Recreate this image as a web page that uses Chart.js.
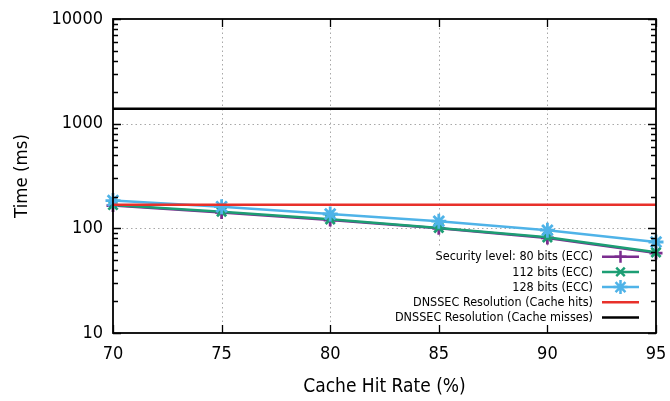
<!DOCTYPE html>
<html><head><meta charset="utf-8">
<script src="https://cdn.jsdelivr.net/npm/chart.js@4"></script>
<style>html,body{margin:0;padding:0;background:#fff}#wrap{width:670px;height:401px}</style>
</head><body><div id="wrap"><canvas id="c" width="670" height="401"></canvas></div>
<script>
const cacheHitRate = [70, 75, 80, 85, 90, 95];
const ecc80 = [165, 142, 120, 100, 81, 58];
const ecc112 = [167, 144, 122, 101, 82, 59];
const ecc128 = [184, 161, 137, 117, 96, 74];
const cacheHits = [168, 168, 168, 168, 168, 168];
const cacheMisses = [1390, 1390, 1390, 1390, 1390, 1390];
const seriesLabels = ['Security level: 80 bits (ECC)', '112 bits (ECC)', '128 bits (ECC)',
  'DNSSEC Resolution (Cache hits)', 'DNSSEC Resolution (Cache misses)'];
const xTicks = [70, 75, 80, 85, 90, 95];
const yMajorTicks = [10, 100, 1000, 10000];
const yMinorTicks = [20,30,40,50,60,70,80,90,200,300,400,500,600,700,800,900,2000,3000,4000,5000,6000,7000,8000,9000];

const FONT = '"DejaVu Sans Condensed", "DejaVu Sans", sans-serif';
const pts = arr => cacheHitRate.map((x, i) => ({x: x, y: arr[i]}));

const styles = [
  {c: '#7b2d8f', p: 'cross', r: 6.5, o: 4},
  {c: '#1d9e74', p: 'crossRot', r: 6.5, o: 3},
  {c: '#4fb3e8', p: 'star', r: 7.5, o: 2},
  {c: '#e8302a', p: false, r: 0, o: 1},
  {c: '#000000', p: false, r: 0, o: 0}
];
const values = [ecc80, ecc112, ecc128, cacheHits, cacheMisses];

const datasets = values.map((v, i) => ({
  label: seriesLabels[i],
  data: pts(v),
  borderColor: styles[i].c,
  backgroundColor: styles[i].c,
  borderWidth: 2.5,
  pointStyle: styles[i].p,
  pointRadius: styles[i].r,
  pointBorderWidth: 2.8,
  pointBorderColor: styles[i].c,
  order: styles[i].o,
  tension: 0,
  clip: false
}));

const frame = {
  id: 'frame',
  beforeDatasetsDraw(chart) {
    const {ctx, chartArea: a, scales: {x, y}} = chart;
    ctx.save();
    ctx.strokeStyle = '#a8a8a8';
    ctx.lineWidth = 1;
    ctx.setLineDash([1.5, 3]);
    xTicks.slice(1, -1).forEach(v => {
      const px = Math.round(x.getPixelForValue(v)) + 0.5;
      ctx.beginPath(); ctx.moveTo(px, a.top); ctx.lineTo(px, a.bottom); ctx.stroke();
    });
    yMajorTicks.slice(1, -1).forEach(v => {
      const py = Math.round(y.getPixelForValue(v)) + 0.5;
      ctx.beginPath(); ctx.moveTo(a.left, py); ctx.lineTo(a.right, py); ctx.stroke();
    });
    ctx.setLineDash([]);
    // opaque key box
    ctx.fillStyle = '#fff';
    ctx.fillRect(392, 247, 254, 79);
    ctx.restore();
  },
  afterDatasetsDraw(chart) {
    const {ctx, chartArea: a, scales: {x, y}} = chart;
    ctx.save();
    // legend
    ctx.font = '12.5px ' + FONT;
    ctx.textAlign = 'right';
    ctx.textBaseline = 'middle';
    chart.data.datasets.forEach((ds, i) => {
      const cy = 256.7 + i * 15.2;
      ctx.fillStyle = '#000';
      ctx.fillText(ds.label, 593, cy + 0.5);
      ctx.strokeStyle = ds.borderColor;
      ctx.lineWidth = 2.5;
      ctx.beginPath(); ctx.moveTo(602, cy); ctx.lineTo(639, cy); ctx.stroke();
      if (ds.pointStyle) {
        Chart.helpers.drawPoint(ctx, {pointStyle: ds.pointStyle, radius: ds.pointRadius - 0.5, borderWidth: 2.8, rotation: 0}, 620.5, cy);
      }
    });
    // ticks
    ctx.strokeStyle = '#000';
    ctx.lineWidth = 1.3;
    xTicks.forEach(v => {
      const px = Math.round(x.getPixelForValue(v)) + 0.5;
      ctx.beginPath();
      ctx.moveTo(px, a.bottom); ctx.lineTo(px, a.bottom - 8);
      ctx.moveTo(px, a.top); ctx.lineTo(px, a.top + 8);
      ctx.stroke();
    });
    yMajorTicks.forEach(v => {
      const py = Math.round(y.getPixelForValue(v)) + 0.5;
      ctx.beginPath();
      ctx.moveTo(a.left, py); ctx.lineTo(a.left + 8, py);
      ctx.moveTo(a.right, py); ctx.lineTo(a.right - 8, py);
      ctx.stroke();
    });
    yMinorTicks.forEach(v => {
      const py = Math.round(y.getPixelForValue(v)) + 0.5;
      ctx.beginPath();
      ctx.moveTo(a.left, py); ctx.lineTo(a.left + 5, py);
      ctx.moveTo(a.right, py); ctx.lineTo(a.right - 5, py);
      ctx.stroke();
    });
    ctx.lineWidth = 1.8;
    ctx.strokeRect(a.left, a.top, a.right - a.left, a.bottom - a.top);
    ctx.restore();
  }
};

new Chart(document.getElementById('c'), {
  type: 'line',
  data: {datasets: datasets},
  options: {
    responsive: false,
    animation: false,
    devicePixelRatio: 1,
    layout: {padding: {top: 19, right: 14, left: 0, bottom: 0}},
    plugins: {legend: {display: false}, tooltip: {enabled: false}},
    scales: {
      x: {
        type: 'linear', min: 70, max: 95,
        afterBuildTicks: s => { s.ticks = xTicks.map(v => ({value: v})); },
        ticks: {font: {family: FONT, size: 18}, color: '#000', padding: 11, maxRotation: 0},
        grid: {display: false, drawTicks: false},
        border: {display: false},
        title: {display: true, text: 'Cache Hit Rate (%)', color: '#000', font: {family: FONT, size: 19}, padding: {top: 0, bottom: 3}},
        afterFit: s => { s.height = 68; s.paddingLeft = 0; s.paddingRight = 0; }
      },
      y: {
        type: 'logarithmic', min: 10, max: 10000,
        afterBuildTicks: s => { s.ticks = yMajorTicks.map(v => ({value: v})); },
        ticks: {font: {family: FONT, size: 18}, color: '#000', padding: 10, callback: v => String(v)},
        grid: {display: false, drawTicks: false},
        border: {display: false},
        title: {display: true, text: 'Time (ms)', color: '#000', font: {family: FONT, size: 18.5}, padding: {top: 11, bottom: 0}},
        afterFit: s => { s.width = 113; s.paddingTop = 0; s.paddingBottom = 0; }
      }
    }
  },
  plugins: [frame]
});
</script>
</body></html>
